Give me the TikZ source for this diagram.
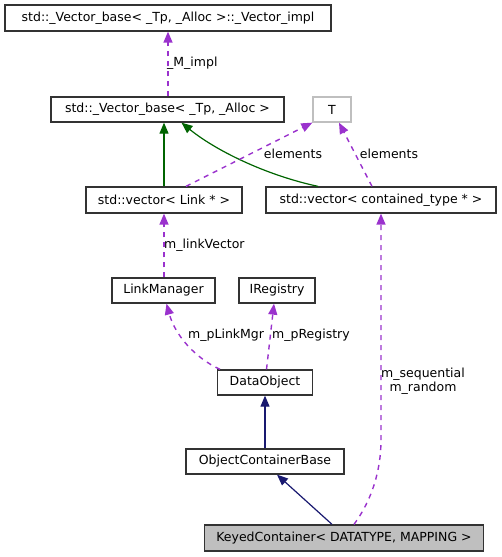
\documentclass[tikz,border=0pt]{standalone}
\usepackage{fontspec}
\setmainfont{DejaVu Sans}
\usetikzlibrary{arrows.meta}
\definecolor{dpurple}{HTML}{9A32CD}
\definecolor{dgreen}{HTML}{006400}
\definecolor{dnavy}{HTML}{191970}
\definecolor{bord}{HTML}{333333}
\definecolor{lgray}{HTML}{BFBFBF}
\tikzset{
  box/.style={draw=bord, line width=1.3pt, fill=white, inner sep=0pt, font=\fontsize{12.5}{14.5}\selectfont},
  lbl/.style={font=\fontsize{12.5}{14.5}\selectfont, inner sep=1pt},
  usage/.style={color=dpurple, line width=1.4pt, dash pattern=on 5pt off 5pt, -{Triangle[length=11pt,width=9pt,fill=dpurple]}},
  inhg/.style={color=dgreen, line width=1.2pt, -{Triangle[length=11pt,width=9pt,fill=dgreen]}},
  inhn/.style={color=dnavy, line width=1.2pt, -{Triangle[length=11pt,width=9pt,fill=dnavy]}},
}
\begin{document}
\begin{tikzpicture}[x=1pt,y=-1pt]
\useasboundingbox (0,0) rectangle (501,557);
\node[box, minimum width=326pt, minimum height=26pt] (vimpl) at (168,18) {std::\_Vector\_base< \_Tp, \_Alloc >::\_Vector\_impl};
\node[box, minimum width=233pt, minimum height=25pt] (vb) at (167.5,109.5) {std::\_Vector\_base< \_Tp, \_Alloc >};
\node[box, draw=lgray, minimum width=38pt, minimum height=25pt] (T) at (332,109.5) {T};
\node[box, minimum width=156pt, minimum height=26pt] (vlink) at (164,200) {std::vector< Link * >};
\node[box, minimum width=230pt, minimum height=26pt] (vct) at (381,200) {std::vector< contained\_type * >};
\node[box, minimum width=103pt, minimum height=25pt] (lm) at (163.5,290.5) {LinkManager};
\node[box, minimum width=76pt, minimum height=25pt] (ir) at (277,290.5) {IRegistry};
\node[box, minimum width=95pt, minimum height=25pt] (do) at (265,382.5) {DataObject};
\node[box, minimum width=158pt, minimum height=25pt] (ocb) at (265,461.5) {ObjectContainerBase};
\node[box, fill=lgray, minimum width=279pt, minimum height=26pt] (kc) at (344,538) {KeyedContainer< DATATYPE, MAPPING >};

\draw[usage] ([xshift=0.5pt]vb.north) -- ([xshift=0.5pt]vb.north |- vimpl.south);
\node[lbl, anchor=west] (l1) at (166,63) {\_M\_impl};

\draw[inhg] (vlink.north) -- (vlink.north |- vb.south);
\draw[inhg] ([xshift=-63pt]vct.north) .. controls (265,175) and (215,150) .. ([xshift=14pt]vb.south);

\draw[usage] ([xshift=22pt]vlink.north) -- (T.south west);
\node[lbl] (l2) at (293,154) {elements};
\draw[usage] ([xshift=-9pt]vct.north) -- ([xshift=7pt]T.south);
\node[lbl] (l3) at (389,154) {elements};

\draw[usage] ([xshift=0.5pt]lm.north) -- ([xshift=0.5pt]lm.north |- vlink.south);
\node[lbl, anchor=west] (l4) at (163,245) {m\_linkVector};

\draw[usage] ([xshift=-45pt]do.north) .. controls (195,358) and (175,335) .. ([xshift=3pt]lm.south);
\node[lbl, anchor=west] (l5) at (187,335) {m\_pLinkMgr};
\draw[usage] ([xshift=1.5pt]do.north) -- ([xshift=-3pt]ir.south);
\node[lbl, anchor=west] (l6) at (271,335) {m\_pRegistry};

\draw[inhn] (ocb.north) -- (do.south);
\draw[inhn] ([xshift=-12pt]kc.north) -- ([xshift=12pt]ocb.south);

\draw[usage] ([xshift=10pt]kc.north) .. controls (372,500) and (381,470) .. (381,440) -- (vct.south);
\node[lbl, align=center] (l7) at (423,381) {m\_sequential\\m\_random};
\end{tikzpicture}
\end{document}
